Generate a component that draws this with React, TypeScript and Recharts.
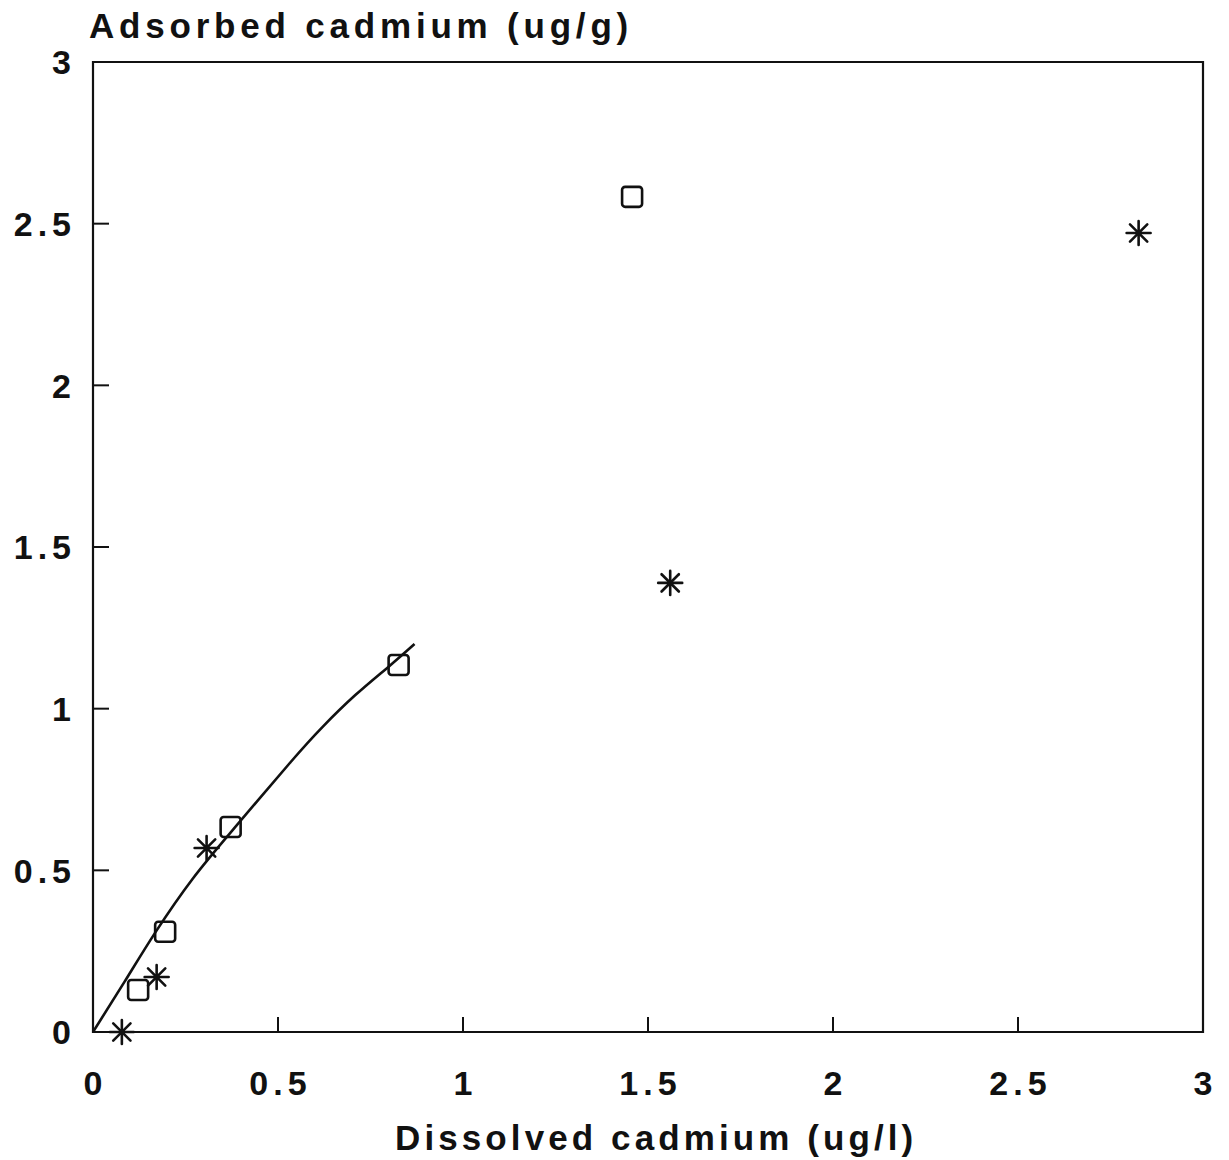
import React from "react";
import {
  ComposedChart,
  XAxis,
  YAxis,
  Scatter,
  Line,
  ReferenceArea,
  Label,
} from "recharts";

// Squares (series A)
const squareX = [0.122, 0.195, 0.372, 0.826, 1.457];
const squareY = [0.13, 0.31, 0.634, 1.135, 2.583];

// Asterisks (series B)
const starX = [0.078, 0.172, 0.307, 1.56, 2.826];
const starY = [0.0, 0.17, 0.569, 1.389, 2.471];

// Fitted curve
const curveX = [0, 0.085, 0.169, 0.27, 0.383, 0.532, 0.62, 0.709, 0.799, 0.869];
const curveY = [0, 0.155, 0.309, 0.475, 0.632, 0.832, 0.943, 1.042, 1.13, 1.2];

const xTicks = [0, 0.5, 1, 1.5, 2, 2.5, 3];
const yTicks = [0, 0.5, 1, 1.5, 2, 2.5, 3];
const xTickLabels = ["0", "0.5", "1", "1.5", "2", "2.5", "3"];
const yTickLabels = ["0", "0.5", "1", "1.5", "2", "2.5", "3"];

const xTitle = "Dissolved cadmium (ug/l)";
const yTitle = "Adsorbed cadmium (ug/g)";

const squares = squareX.map((x, i) => ({ x, y: squareY[i] }));
const stars = starX.map((x, i) => ({ x, y: starY[i] }));
const curve = curveX.map((x, i) => ({ x, y: curveY[i] }));

const FONT = "'Liberation Sans', Arial, Helvetica, sans-serif";
const INK = "#111";
const TICK_FS = 34;
const TICK_LS = 5;
const TITLE_FS = 35;

const SquareShape = (props: any) => {
  const { cx, cy } = props;
  if (cx == null || cy == null) return null;
  const s = 20;
  return (
    <rect
      x={cx - s / 2}
      y={cy - s / 2}
      width={s}
      height={s}
      rx={3}
      ry={3}
      fill="none"
      stroke={INK}
      strokeWidth={2.6}
    />
  );
};

const StarShape = (props: any) => {
  const { cx, cy } = props;
  if (cx == null || cy == null) return null;
  const r = 12;
  const d = r * 0.72;
  return (
    <g stroke={INK} strokeWidth={2.6} strokeLinecap="round">
      <line x1={cx - r} y1={cy} x2={cx + r} y2={cy} />
      <line x1={cx} y1={cy - r} x2={cx} y2={cy + r} />
      <line x1={cx - d} y1={cy - d} x2={cx + d} y2={cy + d} />
      <line x1={cx - d} y1={cy + d} x2={cx + d} y2={cy - d} />
      <circle cx={cx} cy={cy} r={3} fill={INK} stroke="none" />
    </g>
  );
};

const XTick = (props: any) => {
  const { x, y, payload } = props;
  const v = payload.value;
  const label = xTickLabels[xTicks.indexOf(v)] ?? String(v);
  const inner = v !== 0 && v !== 3;
  return (
    <g>
      {inner && <line x1={x} y1={y} x2={x} y2={y - 15} stroke={INK} strokeWidth={2} />}
      <text
        x={x + TICK_LS / 2}
        y={y + 63}
        textAnchor="middle"
        fontFamily={FONT}
        fontWeight={700}
        fontSize={TICK_FS}
        letterSpacing={TICK_LS}
        fill={INK}
      >
        {label}
      </text>
    </g>
  );
};

const YTick = (props: any) => {
  const { x, y, payload } = props;
  const v = payload.value;
  const label = yTickLabels[yTicks.indexOf(v)] ?? String(v);
  const inner = v !== 0 && v !== 3;
  return (
    <g>
      {inner && <line x1={x} y1={y} x2={x + 16} y2={y} stroke={INK} strokeWidth={2} />}
      <text
        x={x - 22 + TICK_LS}
        y={y}
        dy="0.36em"
        textAnchor="end"
        fontFamily={FONT}
        fontWeight={700}
        fontSize={TICK_FS}
        letterSpacing={TICK_LS}
        fill={INK}
      >
        {label}
      </text>
    </g>
  );
};

export default function App() {
  return (
    <div style={{ position: "absolute", left: 0, top: 0, background: "#fff" }}>
      <ComposedChart
        width={1229}
        height={1160}
        margin={{ top: 62, right: 26, bottom: 0, left: 0 }}
      >
        <XAxis
          dataKey="x"
          type="number"
          domain={[0, 3]}
          ticks={xTicks}
          height={128}
          axisLine={false}
          tickLine={false}
          tickSize={0}
          tickMargin={0}
          tick={<XTick />}
          interval={0}
        >
          <Label
            content={() => (
              <text
                x={395}
                y={1150}
                fontFamily={FONT}
                fontWeight={700}
                fontSize={TITLE_FS}
                letterSpacing={4.1}
                fill={INK}
              >
                {xTitle}
              </text>
            )}
          />
        </XAxis>
        <YAxis
          dataKey="y"
          type="number"
          domain={[0, 3]}
          ticks={yTicks}
          width={93}
          axisLine={false}
          tickLine={false}
          tickSize={0}
          tickMargin={0}
          tick={<YTick />}
          interval={0}
        >
          <Label
            content={() => (
              <text
                x={89}
                y={38}
                fontFamily={FONT}
                fontWeight={700}
                fontSize={TITLE_FS}
                letterSpacing={4.8}
                fill={INK}
              >
                {yTitle}
              </text>
            )}
          />
        </YAxis>
        <ReferenceArea
          x1={0}
          x2={3}
          y1={0}
          y2={3}
          fill="none"
          fillOpacity={0}
          stroke={INK}
          strokeWidth={2.2}
          ifOverflow="visible"
        />
        <Line
          data={curve}
          dataKey="y"
          type="natural"
          stroke={INK}
          strokeWidth={2.6}
          dot={false}
          activeDot={false}
          isAnimationActive={false}
        />
        <Scatter
          data={squares}
          dataKey="y"
          shape={<SquareShape />}
          isAnimationActive={false}
        />
        <Scatter
          data={stars}
          dataKey="y"
          shape={<StarShape />}
          isAnimationActive={false}
        />
      </ComposedChart>
    </div>
  );
}
